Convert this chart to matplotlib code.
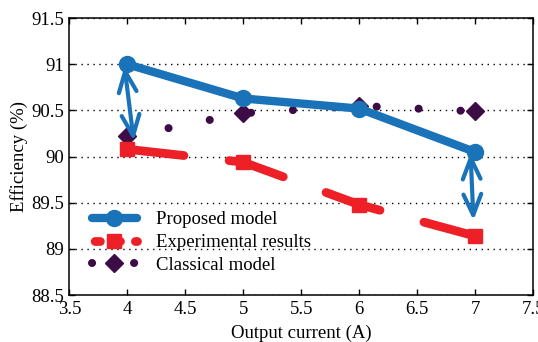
import matplotlib
matplotlib.use("Agg")
import matplotlib.pyplot as plt

# ---- data ----
current = [4, 5, 6, 7]
proposed = [91.00, 90.63, 90.52, 90.05]
experimental = [90.08, 89.94, 89.48, 89.14]
classical = [90.22, 90.47, 90.55, 90.49]
labels = ["Proposed model", "Experimental results", "Classical model"]
xticks = [3.5, 4, 4.5, 5, 5.5, 6, 6.5, 7, 7.5]
yticks = [88.5, 89, 89.5, 90, 90.5, 91, 91.5]

blue = "#1a72b8"
red = "#ee2027"
purple = "#3d0b46"

plt.rcParams["font.family"] = ["Liberation Serif", "DejaVu Serif"]
plt.rcParams["font.size"] = 13.5

fig = plt.figure(figsize=(5.38, 3.42), dpi=100)
ax = fig.add_axes([0.129, 0.137, 0.862, 0.81])

l1, = ax.plot(current, proposed, color=blue, lw=6, marker="o", ms=11.5,
              solid_capstyle="round", zorder=4, label=labels[0])
l2, = ax.plot(current, experimental, color=red, lw=6.3, marker="s", ms=10,
              dash_capstyle="round", zorder=3, label=labels[1])
l2.set_dashes([6.5, 5.2])
l3, = ax.plot(current, classical, color=purple, lw=5.8, marker="D", ms=9.5,
              dash_capstyle="round", zorder=2, label=labels[2])
l3.set_dashes([0.01, 5.2])

# double-headed arrows between proposed and experimental
arrow_kw = dict(arrowstyle="<->,head_length=0.75,head_width=0.32",
                color=blue, lw=3, mutation_scale=20, shrinkA=0, shrinkB=0)
ax.annotate("", xy=(current[0] - 0.025, proposed[0] - 0.02),
            xytext=(current[0] + 0.055, experimental[0] + 0.09),
            arrowprops=arrow_kw, zorder=5)
ax.annotate("", xy=(current[-1] - 0.04, proposed[-1] - 0.01),
            xytext=(current[-1] - 0.015, experimental[-1] + 0.17),
            arrowprops=arrow_kw, zorder=5)

ax.set_xlim(3.5, 7.5)
ax.set_ylim(88.5, 91.5)
ax.set_xticks(xticks)
ax.set_xticklabels([f"{t:g}" for t in xticks])
ax.set_yticks(yticks)
ax.set_yticklabels([f"{t:g}" for t in yticks])
ax.tick_params(direction="in", top=True, right=True, length=4, width=1, pad=4)
for s in ax.spines.values():
    s.set_linewidth(1.1)
ax.yaxis.grid(True, linestyle=(0, (1, 3.3)), color="black", lw=1)
ax.set_axisbelow(True)

ax.set_xlabel("Output current (A)", labelpad=5)
ax.set_ylabel("Efficiency (%)", labelpad=2)

leg = ax.legend(loc="center left", bbox_to_anchor=(0.02, 0.19), frameon=False,
                numpoints=1, handlelength=2.4, handletextpad=1.0,
                labelspacing=0.3, borderaxespad=0.3)
lls = leg.get_lines()
lls[1].set_linestyle((2.0, (0.6, 1.7)))
lls[2].set_dashes([0.01, 2.6])

fig.savefig("out.png", dpi=100)
